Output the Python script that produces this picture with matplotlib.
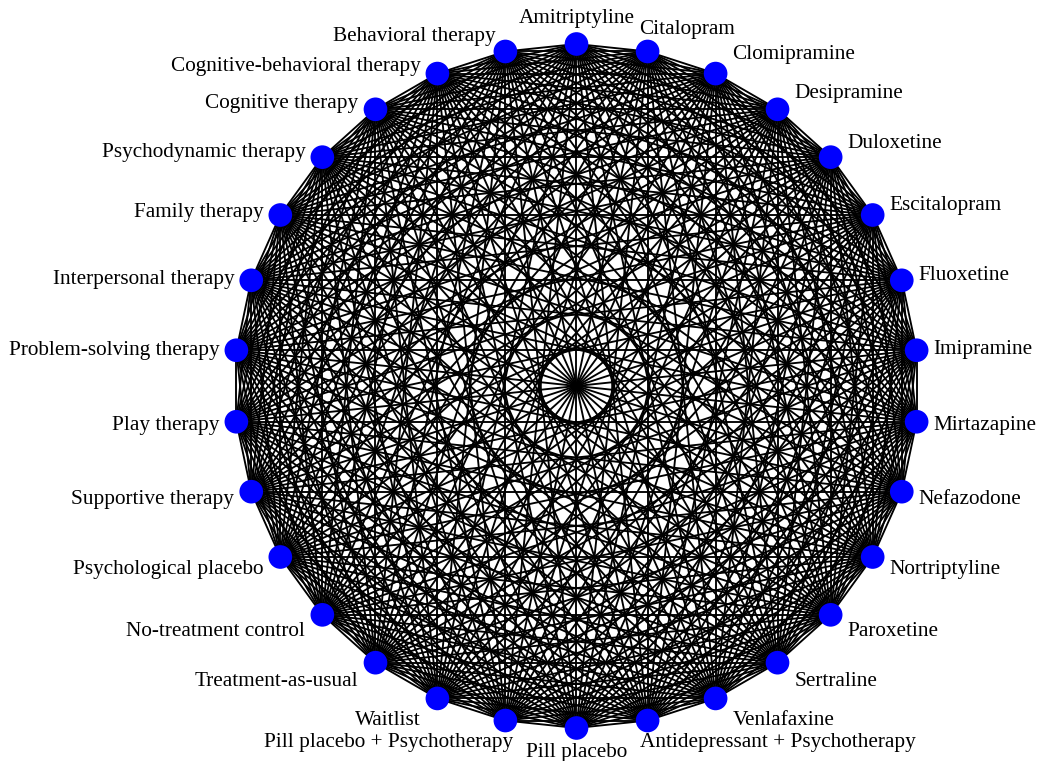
import itertools
import numpy as np
import matplotlib
matplotlib.use("Agg")
import matplotlib.pyplot as plt

# Treatments, clockwise starting from the top of the circle
treatments = [
    "Amitriptyline", "Citalopram", "Clomipramine", "Desipramine", "Duloxetine",
    "Escitalopram", "Fluoxetine", "Imipramine", "Mirtazapine", "Nefazodone",
    "Nortriptyline", "Paroxetine", "Sertraline", "Venlafaxine",
    "Antidepressant + Psychotherapy", "Pill placebo",
    "Pill placebo + Psychotherapy", "Waitlist", "Treatment-as-usual",
    "No-treatment control", "Psychological placebo", "Supportive therapy",
    "Play therapy", "Problem-solving therapy", "Interpersonal therapy",
    "Family therapy", "Psychodynamic therapy", "Cognitive therapy",
    "Cognitive-behavioral therapy", "Behavioral therapy",
]
# every pair of treatments is connected (complete network)
edges = list(itertools.combinations(range(len(treatments)), 2))

n = len(treatments)
theta = np.deg2rad(90 - 360.0 / n * np.arange(n))
xs = np.cos(theta)
ys = np.sin(theta)

W, H = 1039, 761
fig = plt.figure(figsize=(W / 100, H / 100), dpi=100)
ax = fig.add_axes([0, 0, 1, 1])
R = 342.0
cx, cy = 576.5, 386.0
ax.set_xlim(-cx / R, (W - cx) / R)
ax.set_ylim(-(H - cy) / R, cy / R)
ax.set_aspect("equal")
ax.axis("off")

for i, j in edges:
    ax.plot([xs[i], xs[j]], [ys[i], ys[j]], color="black", lw=1.35,
            zorder=1, solid_capstyle="butt")

ax.scatter(xs, ys, s=290, color="#0000ff", edgecolors="none", zorder=3)

px2pt = 0.72
for k, name in enumerate(treatments):
    c, s = np.cos(theta[k]), np.sin(theta[k])
    if abs(c) < 0.05:
        ha = "center"
        dx = 0
        dy = 25 * np.sign(s)
    elif abs(c) < 0.3:
        ha = "left" if c > 0 else "right"
        dx = -8 * np.sign(c)
        dy = 22 * np.sign(s)
        if c < 0 and s > 0:
            dx = -10
            dy = 15
    else:
        ha = "left" if c > 0 else "right"
        dx = 17 * np.sign(c)
        kk = 9 if (c < 0 and s > 0) else 22
        dy = kk * s - 1.5
    ax.annotate(name, (xs[k], ys[k]), xytext=(dx * px2pt, dy * px2pt),
                textcoords="offset points", ha=ha, va="center",
                fontsize=15.3, family="Liberation Serif", color="black",
                zorder=4)

fig.savefig("out.png", dpi=100)
